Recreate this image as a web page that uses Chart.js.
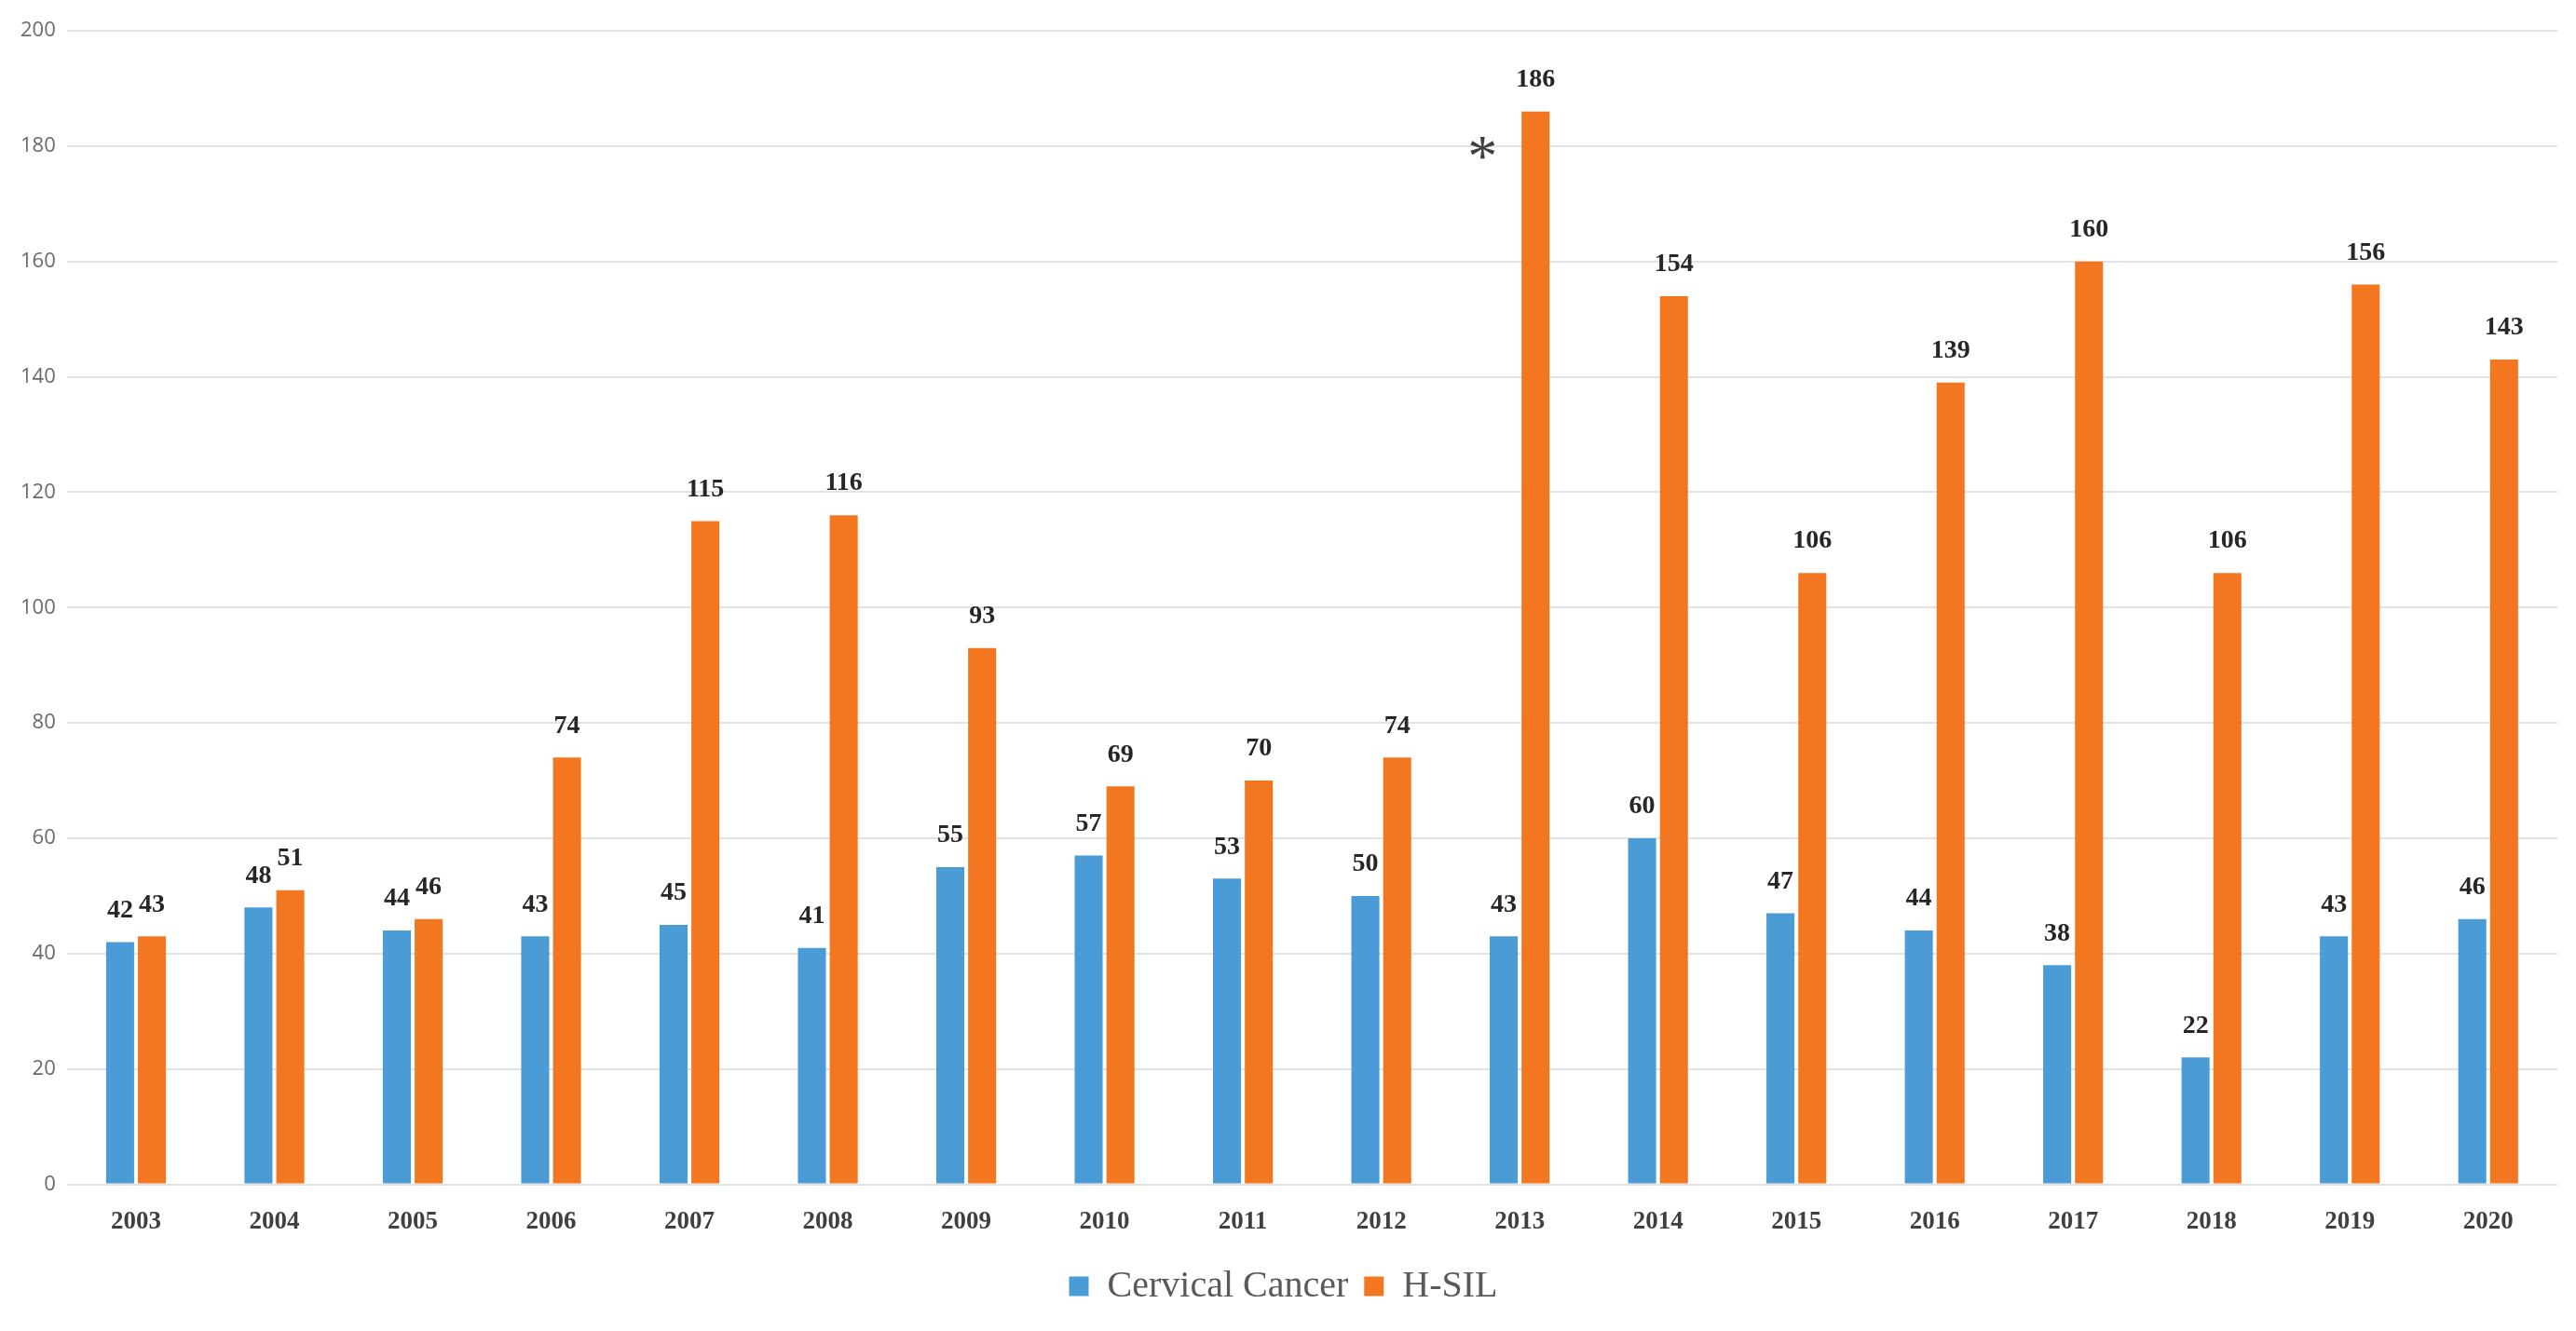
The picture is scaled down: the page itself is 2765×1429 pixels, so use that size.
<!DOCTYPE html>
<html>
<head>
<meta charset="utf-8">
<script src="https://cdn.jsdelivr.net/npm/chart.js@4.4.1/dist/chart.umd.min.js"></script>
<style>
  html, body { margin: 0; padding: 0; background: #ffffff; }
  #wrap { width: 2765px; height: 1429px; }
</style>
</head>
<body>
<div id="wrap"><canvas id="grafico" width="2765" height="1429"></canvas></div>
<script>
// datos
const years = ['2003','2004','2005','2006','2007','2008','2009','2010','2011','2012','2013','2014','2015','2016','2017','2018','2019','2020'];
const cervicalCancer = [42, 48, 44, 43, 45, 41, 55, 57, 53, 50, 43, 60, 47, 44, 38, 22, 43, 46];
const hsil = [43, 51, 46, 74, 115, 116, 93, 69, 70, 74, 186, 154, 106, 139, 160, 106, 156, 143];
const seriesNames = ['Cervical Cancer', 'H-SIL'];
// marca de significacion (*)
const starYear = '2013';
const starValue = 180;

const serif = '"Liberation Serif", "Times New Roman", serif';

// etiquetas de valor encima de cada barra + asterisco
const etiquetasPlugin = {
    id: 'etiquetas',
    afterDatasetsDraw(chart) {
        const ctx = chart.ctx;
        ctx.save();
        ctx.font = 'bold 28px ' + serif;
        ctx.fillStyle = '#262626';
        ctx.textAlign = 'center';
        ctx.textBaseline = 'bottom';
        chart.data.datasets.forEach((ds, i) => {
            chart.getDatasetMeta(i).data.forEach((bar, j) => {
                ctx.fillText(String(ds.data[j]), bar.x, bar.y - 20);
            });
        });
        // asterisco
        const xs = chart.scales.x, ys = chart.scales.y;
        const sx = xs.getPixelForValue(years.indexOf(starYear)) - 40;
        const sy = ys.getPixelForValue(starValue);
        ctx.font = '64px ' + serif;
        ctx.fillStyle = '#404040';
        ctx.textBaseline = 'alphabetic';
        ctx.fillText('*', sx, sy + 32);
        ctx.restore();
    }
};

const ctx = document.getElementById('grafico').getContext('2d');
window.chartObj = new Chart(ctx, {
    type: 'bar',
    data: {
        labels: years,
        datasets: [
            { label: seriesNames[0], data: cervicalCancer, backgroundColor: '#4a9bd6', categoryPercentage: 0.46, barPercentage: 0.88 },
            { label: seriesNames[1], data: hsil, backgroundColor: '#f37721', categoryPercentage: 0.46, barPercentage: 0.88 }
        ]
    },
    options: {
        responsive: false, animation: false, devicePixelRatio: 1,
        layout: { padding: { top: 33, right: 20, left: 10, bottom: 18 } },
        scales: {
            y: {
                min: 0, max: 200,
                ticks: { stepSize: 20, padding: 12, color: '#6a6a6a', font: { size: 22, family: '"Open Sans", "DejaVu Sans", sans-serif' } },
                grid: { color: '#e2e2e2', lineWidth: 2, drawTicks: false },
                border: { display: false }
            },
            x: {
                ticks: { padding: 16, color: '#404040', font: { size: 27, weight: 'bold', family: serif } },
                grid: { display: false },
                border: { display: false }
            }
        },
        plugins: {
            legend: {
                position: 'bottom',
                labels: { boxWidth: 21, boxHeight: 21, padding: 17, color: '#595959', font: { size: 40, family: serif } }
            },
            tooltip: { enabled: false }
        }
    },
    plugins: [etiquetasPlugin]
});
</script>
</body>
</html>
